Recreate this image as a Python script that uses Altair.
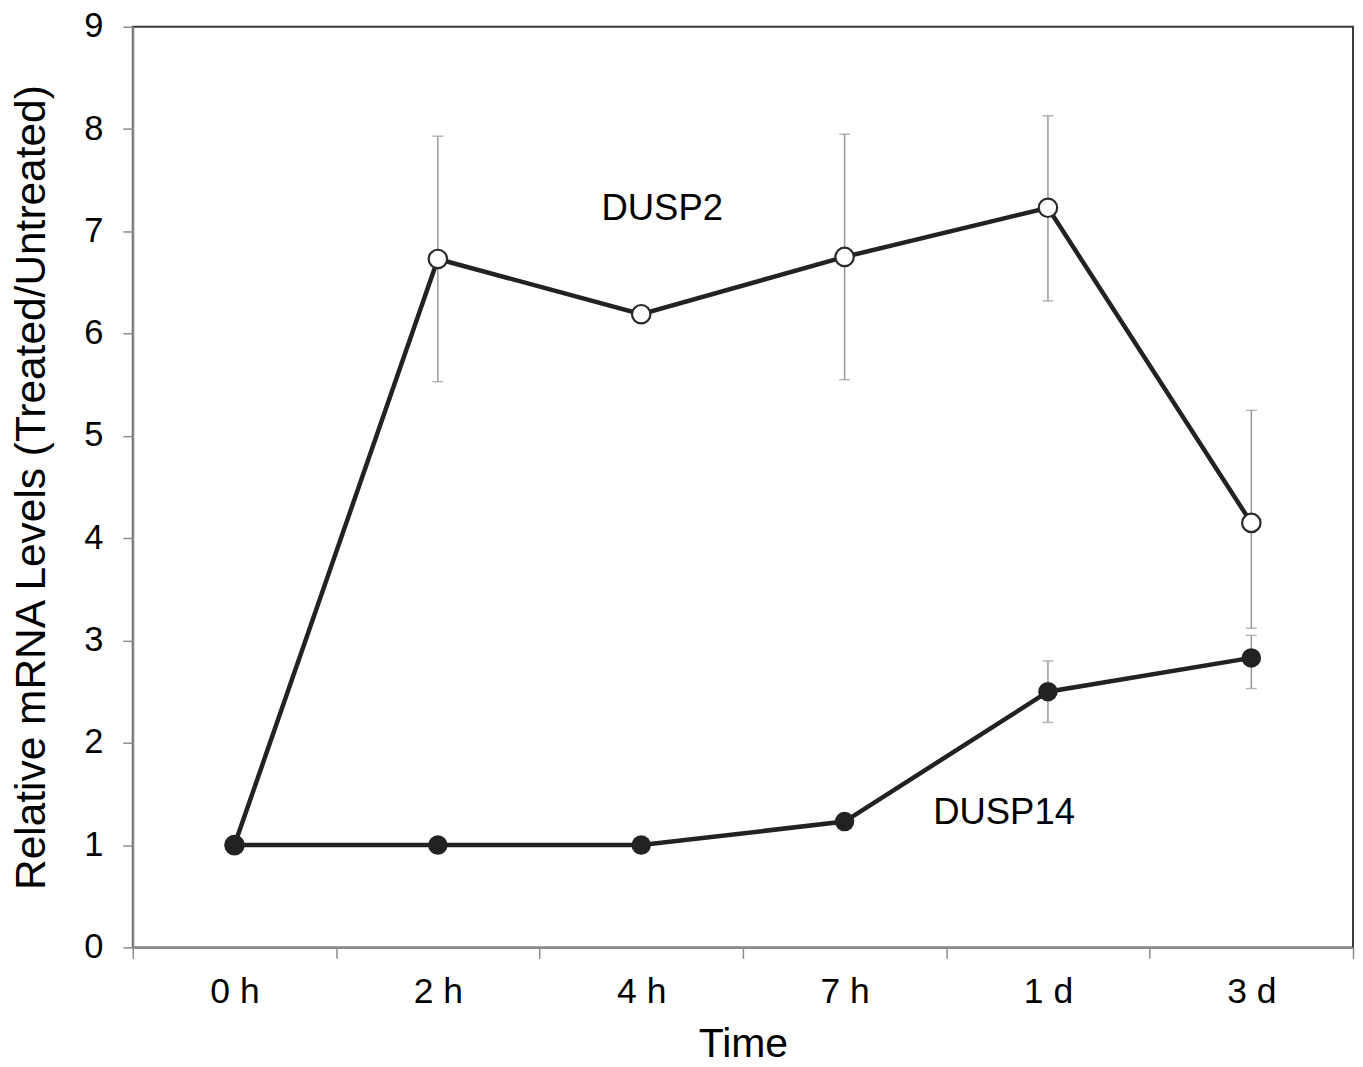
import altair as alt
import pandas as pd

times = ["0 h", "2 h", "4 h", "7 h", "1 d", "3 d"]
dusp2 = [1.0, 6.73, 6.19, 6.75, 7.23, 4.15]
dusp2_lo = [1.0, 5.53, 6.19, 5.55, 6.32, 3.12]
dusp2_hi = [1.0, 7.93, 6.19, 7.95, 8.13, 5.25]
dusp14 = [1.0, 1.0, 1.0, 1.23, 2.50, 2.83]
dusp14_lo = [1.0, 1.0, 1.0, 1.16, 2.20, 2.53]
dusp14_hi = [1.0, 1.0, 1.0, 1.30, 2.80, 3.05]
y_ticks = [0, 1, 2, 3, 4, 5, 6, 7, 8, 9]

rows = []
for t, v, lo, hi in zip(times, dusp2, dusp2_lo, dusp2_hi):
    rows.append({"time": t, "gene": "DUSP2", "value": v, "lo": lo, "hi": hi})
for t, v, lo, hi in zip(times, dusp14, dusp14_lo, dusp14_hi):
    rows.append({"time": t, "gene": "DUSP14", "value": v, "lo": lo, "hi": hi})
df = pd.DataFrame(rows)
err = df[df["hi"] > df["lo"]]

labels = pd.DataFrame([
    {"time": "4 h", "value": 7.22, "text": "DUSP2"},
    {"time": "1 d", "value": 1.31, "text": "DUSP14"},
])

FONT = "Liberation Sans"

x_enc = alt.X(
    "time:N", sort=times,
    scale=alt.Scale(domain=times, paddingInner=0, paddingOuter=0),
    axis=alt.Axis(
        title="Time", tickBand="extent", labelAngle=0,
        labelFontSize=35.5, labelFont=FONT, labelColor="black", labelPadding=16,
        titleFontSize=41, titleFont=FONT, titleColor="black", titleFontWeight="normal",
        titlePadding=15,
        domainColor="#8c8c8c", domainWidth=2, tickColor="#8c8c8c", tickWidth=1.5, tickSize=11,
        grid=False,
    ),
)
y_scale = alt.Scale(domain=[0, 9], nice=False)
y_axis = alt.Axis(
    title="Relative mRNA Levels (Treated/Untreated)", values=y_ticks, format="d",
    labelFontSize=34.5, labelFont=FONT, labelColor="black", labelPadding=20,
    titleFontSize=42.5, titleFont=FONT, titleColor="black", titleFontWeight="normal",
    titlePadding=30,
    domainColor="#8c8c8c", domainWidth=2, tickColor="#8c8c8c", tickWidth=1.5, tickSize=10,
    grid=False,
)

base = alt.Chart(df)

err_rule = alt.Chart(err).mark_rule(color="#999999", strokeWidth=1.5).encode(
    x=x_enc, y=alt.Y("lo:Q", scale=y_scale, axis=y_axis), y2="hi:Q"
)
cap_lo = alt.Chart(err).mark_tick(color="#999999", thickness=1.5, size=11, orient="horizontal").encode(
    x=x_enc, y=alt.Y("lo:Q", scale=y_scale)
)
cap_hi = alt.Chart(err).mark_tick(color="#999999", thickness=1.5, size=11, orient="horizontal").encode(
    x=x_enc, y=alt.Y("hi:Q", scale=y_scale)
)

lines = base.mark_line(color="#222222", strokeWidth=4.5).encode(
    x=x_enc, y=alt.Y("value:Q", scale=y_scale), detail="gene:N"
)

pts2 = alt.Chart(df[df["gene"] == "DUSP2"]).mark_point(
    filled=True, fill="white", stroke="#2a2a2a", strokeWidth=2.2, size=340, opacity=1, shape="circle"
).encode(x=x_enc, y=alt.Y("value:Q", scale=y_scale))

pts14 = alt.Chart(df[df["gene"] == "DUSP14"]).mark_circle(
    color="#222222", size=380, opacity=1
).encode(x=x_enc, y=alt.Y("value:Q", scale=y_scale))

txt2 = alt.Chart(labels[labels["text"] == "DUSP2"]).mark_text(
    font=FONT, fontSize=36.5, color="black", align="center", baseline="middle", dx=21
).encode(x=x_enc, y=alt.Y("value:Q", scale=y_scale), text="text:N")
txt14 = alt.Chart(labels[labels["text"] == "DUSP14"]).mark_text(
    font=FONT, fontSize=36.5, color="black", align="center", baseline="middle", dx=-44
).encode(x=x_enc, y=alt.Y("value:Q", scale=y_scale), text="text:N")

chart = alt.layer(err_rule, cap_lo, cap_hi, lines, pts2, pts14, txt2, txt14).properties(
    width=1222, height=922,
    autosize=alt.AutoSizeParams(type="none"),
    padding={"left": 125, "top": 18, "right": 2, "bottom": 118},
    background="white",
).configure_view(stroke="#3a3a3a", strokeWidth=2)

chart.save("out.html", embed_options={"renderer": "svg", "actions": False})
